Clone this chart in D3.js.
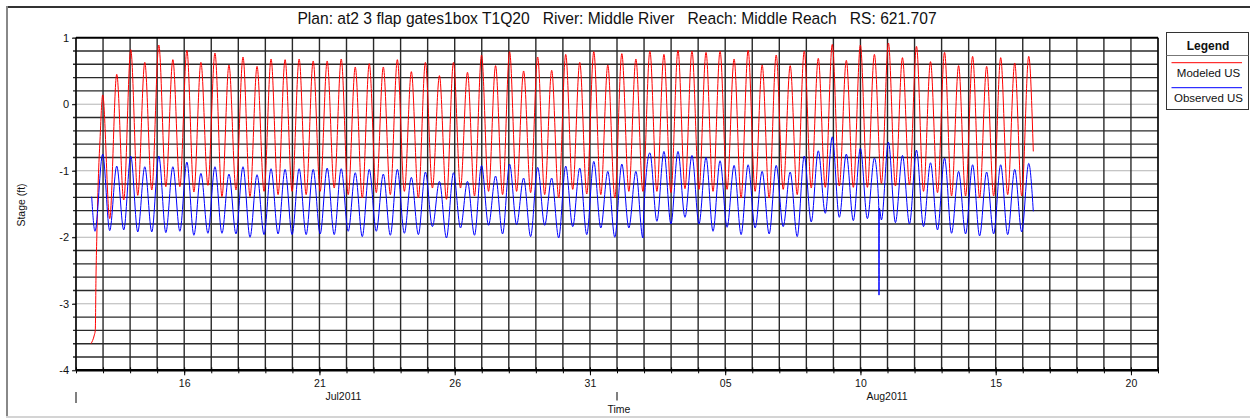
<!DOCTYPE html>
<html><head><meta charset="utf-8">
<script src="https://cdn.jsdelivr.net/npm/d3@7"></script>
<style>
html,body{margin:0;padding:0;background:#fff;}
svg{display:block;font-family:"Liberation Sans",Arial,sans-serif;}
</style></head><body>
<svg id="chart" width="1250" height="418"></svg>
<script>
// ---------------- DATA ----------------
const chartTitle = "Plan: at2 3 flap gates1box T1Q20   River: Middle River   Reach: Middle Reach   RS: 621.707";
const seriesNames = ["Modeled US", "Observed US"];
const yAxisTitle = "Stage (ft)";
const xAxisTitle = "Time";
const startDate = new Date(2011, 6, 12);
const endDate = new Date(2011, 7, 21);

// times (days after 12 Jul 2011 00:00) of each high and low water
const peakDay = [0.987,1.506,2.024,2.543,3.062,3.581,4.099,4.618,5.137,5.655,6.174,6.693,7.211,7.730,8.249,8.768,9.286,9.805,10.324,10.842,11.361,11.880,12.398,12.917,13.436,13.955,14.473,14.992,15.511,16.029,16.548,17.067,17.585,18.104,18.623,19.142,19.660,20.179,20.698,21.216,21.735,22.254,22.772,23.291,23.810,24.329,24.847,25.366,25.885,26.403,26.922,27.441,27.959,28.478,28.997,29.516,30.034,30.553,31.072,31.590,32.109,32.628,33.146,33.665,34.184,34.703,35.221];
const troughDay = [1.246,1.765,2.283,2.802,3.321,3.840,4.358,4.877,5.396,5.914,6.433,6.952,7.470,7.989,8.508,9.027,9.545,10.064,10.583,11.101,11.620,12.139,12.657,13.176,13.695,14.214,14.732,15.251,15.770,16.288,16.807,17.326,17.844,18.363,18.882,19.401,19.919,20.438,20.957,21.475,21.994,22.513,23.031,23.550,24.069,24.588,25.106,25.625,26.144,26.662,27.181,27.700,28.218,28.737,29.256,29.775,30.293,30.812,31.331,31.849,32.368,32.887,33.405,33.924,34.443,34.962];

// Modeled US stage (ft)
const modeledPeaks = [0.14,0.45,0.82,0.63,0.89,0.67,0.81,0.63,0.77,0.59,
  0.71,0.57,0.68,0.67,0.68,0.65,0.65,0.68,0.56,0.61,
  0.56,0.67,0.49,0.63,0.43,0.63,0.48,0.74,0.58,0.79,
  0.50,0.71,0.51,0.75,0.63,0.79,0.59,0.76,0.68,0.80,
  0.75,0.81,0.80,0.78,0.80,0.68,0.81,0.59,0.74,0.58,
  0.80,0.69,0.90,0.66,0.89,0.75,0.92,0.70,0.87,0.64,
  0.78,0.58,0.72,0.57,0.70,0.62,0.72];
const modeledTroughs = [-1.72,-1.44,-1.37,-1.29,-1.24,-1.24,-1.32,-1.22,-1.39,-1.29,
  -1.39,-1.31,-1.36,-1.31,-1.36,-1.31,-1.26,-1.36,-1.41,-1.33,
  -1.36,-1.31,-1.41,-1.26,-1.43,-1.26,-1.38,-1.31,-1.36,-1.31,
  -1.33,-1.36,-1.41,-1.28,-1.35,-1.36,-1.41,-1.31,-1.31,-1.31,
  -1.33,-1.27,-1.28,-1.31,-1.28,-1.41,-1.31,-1.41,-1.28,-1.36,
  -1.26,-1.25,-1.23,-1.25,-1.25,-1.19,-1.23,-1.21,-1.31,-1.33,
  -1.38,-1.38,-1.41,-1.38,-1.36,-1.38];
const modeledOtherDay = [0.555,0.677,0.713,0.739,0.769,0.824,0.887,35.39];
const modeledOther = [-3.60,-3.47,-3.40,-2.60,-2.00,-1.14,-0.54,-0.71];

// Observed US stage (ft)
const observedPeaks = [-0.75,-0.93,-0.78,-0.94,-0.78,-0.94,-0.87,-1.04,-0.94,-1.05,
  -0.94,-1.06,-0.97,-0.98,-0.97,-0.98,-0.96,-0.97,-1.03,-0.98,
  -1.05,-0.98,-1.10,-1.02,-1.16,-1.03,-1.16,-0.92,-1.08,-0.90,
  -1.11,-0.95,-1.11,-0.93,-0.96,-0.86,-1.01,-0.90,-1.01,-0.73,
  -0.71,-0.71,-0.77,-0.80,-0.85,-0.92,-0.91,-1.01,-0.92,-1.02,
  -0.78,-0.70,-0.49,-0.75,-0.66,-0.81,-0.57,-0.77,-0.69,-0.88,
  -0.81,-1.01,-0.91,-1.02,-0.91,-0.98,-0.89];
const observedTroughs = [-1.90,-1.89,-1.92,-1.92,-1.93,-1.91,-1.97,-1.94,-1.94,-1.95,
  -2.00,-1.96,-1.95,-1.96,-1.96,-1.95,-1.96,-1.91,-1.99,-1.91,
  -1.97,-1.94,-1.96,-1.84,-2.01,-1.86,-1.97,-1.82,-1.95,-1.81,
  -1.99,-1.82,-2.01,-1.84,-1.96,-1.86,-2.00,-1.86,-2.01,-1.76,
  -1.80,-1.70,-1.80,-1.91,-1.85,-1.96,-1.86,-1.95,-1.84,-1.99,
  -1.77,-1.64,-1.70,-1.75,-1.72,-1.74,-1.78,-1.80,-1.84,-1.89,
  -1.94,-1.95,-1.98,-1.95,-1.96,-1.92];
const observedOtherDay = [0.580,0.702,20.985,29.675,29.686,29.697,35.39];
const observedOther = [-1.39,-1.91,-1.66,-1.50,-2.87,-1.56,-1.61];

const yTickValues = [1, 0, -1, -2, -3, -4];
const yTickLabels = ["1", "0", "-1", "-2", "-3", "-4"];
const xTickDates = ["2011-07-16","2011-07-21","2011-07-26","2011-07-31","2011-08-05","2011-08-10","2011-08-15","2011-08-20"];
const xTickLabels = ["16","21","26","31","05","10","15","20"];
const monthDates = ["2011-07-21","2011-08-10"];
const monthLabels = ["Jul2011","Aug2011"];
const monthMarkDates = ["2011-07-12","2011-08-01"];
const seriesColors = ["#ff0000", "#0000ff"];

// ---------------- CHART ----------------
const svg = d3.select("#chart");
const X0 = 76, X1 = 1158, Y0 = 370.3, Y1 = 37.7;
const parse = d3.timeParse("%Y-%m-%d");
const x = d3.scaleTime().domain([startDate, endDate]).range([X0, X1]);
const y = d3.scaleLinear().domain([-4, 1]).range([Y0, Y1]);
const dayToDate = d => new Date(startDate.getTime() + d * 86400000);

function buildSeries(pd, pv, td, tv, od, ov) {
  const pts = [];
  pd.forEach((d, i) => pts.push({ t: dayToDate(d), v: pv[i] }));
  td.forEach((d, i) => pts.push({ t: dayToDate(d), v: tv[i] }));
  od.forEach((d, i) => pts.push({ t: dayToDate(d), v: ov[i] }));
  return pts.sort((a, b) => a.t - b.t);
}
const modeled = buildSeries(peakDay, modeledPeaks, troughDay, modeledTroughs, modeledOtherDay, modeledOther);
const observed = buildSeries(peakDay, observedPeaks, troughDay, observedTroughs, observedOtherDay, observedOther);

// outer panel border
svg.append("line").attr("x1", 6).attr("x2", 1250).attr("y1", 7).attr("y2", 7).attr("stroke", "#333").attr("stroke-width", 2);
svg.append("line").attr("x1", 7).attr("x2", 7).attr("y1", 6).attr("y2", 418).attr("stroke", "#888").attr("stroke-width", 2);
svg.append("line").attr("x1", 6).attr("x2", 1250).attr("y1", 417).attr("y2", 417).attr("stroke", "#d4d4d4").attr("stroke-width", 2);

// horizontal grid
const hTicks = y.ticks(25);
const grid = svg.append("g");
grid.selectAll("line.h").data(hTicks).join("line")
  .attr("x1", X0 - 3).attr("x2", X1)
  .attr("y1", d => y(d)).attr("y2", d => y(d))
  .attr("stroke", d => Math.abs(d - Math.round(d)) < 1e-6 ? "#b4b4b4" : "#2a2a2a")
  .attr("stroke-width", d => Math.abs(d - Math.round(d)) < 1e-6 ? 1 : 1.4);
// vertical grid (daily)
const days = d3.timeDay.range(startDate, d3.timeDay.offset(endDate, 1));
grid.selectAll("line.v").data(days).join("line")
  .attr("x1", d => x(d)).attr("x2", d => x(d))
  .attr("y1", Y1).attr("y2", Y0)
  .attr("stroke", "#2a2a2a").attr("stroke-width", 1.4);

// lines
const line = d3.line().x(d => x(d.t)).y(d => y(d.v)).curve(d3.curveMonotoneX);
const plot = svg.append("g");
plot.append("path").datum(modeled).attr("d", line).attr("fill", "none").attr("stroke", seriesColors[0]).attr("stroke-width", 1);
plot.append("path").datum(observed).attr("d", line).attr("fill", "none").attr("stroke", seriesColors[1]).attr("stroke-width", 1);

// frame
svg.append("line").attr("x1", X0).attr("x2", X1).attr("y1", Y1).attr("y2", Y1).attr("stroke", "#000").attr("stroke-width", 2);
svg.append("line").attr("x1", X0).attr("x2", X1).attr("y1", Y0).attr("y2", Y0).attr("stroke", "#000").attr("stroke-width", 2.5);
svg.append("line").attr("x1", X0).attr("x2", X0).attr("y1", Y1).attr("y2", Y0).attr("stroke", "#000").attr("stroke-width", 1.2);
svg.append("line").attr("x1", X1).attr("x2", X1).attr("y1", Y1).attr("y2", Y0).attr("stroke", "#000").attr("stroke-width", 1.2);

// y axis
const yAxis = svg.append("g").attr("transform", `translate(${X0},0)`)
  .call(d3.axisLeft(y).tickValues(yTickValues).tickSize(4).tickPadding(3)
    .tickFormat((d, i) => yTickLabels[i]));
yAxis.select(".domain").remove();
yAxis.selectAll(".tick line").attr("stroke", "#000");
yAxis.selectAll(".tick text").attr("font-size", 11).attr("fill", "#111")
  .attr("font-family", "Liberation Sans, Arial, sans-serif");

// x axis: daily small ticks
const xAxisSmall = svg.append("g").attr("transform", `translate(0,${Y0 - 3})`)
  .call(d3.axisBottom(x).tickValues(days).tickSize(6).tickFormat(""));
xAxisSmall.select(".domain").remove();
xAxisSmall.selectAll(".tick line").attr("stroke", "#000");
// labeled ticks
const xAxis = svg.append("g").attr("transform", `translate(0,${Y0})`)
  .call(d3.axisBottom(x).tickValues(xTickDates.map(parse)).tickSize(5).tickPadding(4)
    .tickFormat((d, i) => xTickLabels[i]));
xAxis.select(".domain").remove();
xAxis.selectAll(".tick line").attr("stroke", "#000");
xAxis.selectAll(".tick text").attr("font-size", 10.5).attr("fill", "#111")
  .attr("font-family", "Liberation Sans, Arial, sans-serif");

// month labels
svg.selectAll("text.month").data(monthDates).join("text")
  .attr("x", d => x(parse(d)) + 6).attr("y", 399.5)
  .attr("font-size", 10.5).attr("fill", "#111")
  .text((d, i) => monthLabels[i]);
svg.selectAll("line.mmark").data(monthMarkDates).join("line")
  .attr("x1", d => x(parse(d))).attr("x2", d => x(parse(d)))
  .attr("y1", 392).attr("y2", (d, i) => i === 0 ? 403 : 400.5)
  .attr("stroke", "#000").attr("stroke-width", 1);

// axis titles
svg.append("text").attr("x", (X0 + X1) / 2 + 2).attr("y", 412.5).attr("text-anchor", "middle")
  .attr("font-size", 10.5).attr("fill", "#111").text(xAxisTitle);
svg.append("text").attr("transform", `translate(25,205) rotate(-90)`).attr("text-anchor", "middle")
  .attr("font-size", 10.5).attr("fill", "#111").text(yAxisTitle);

// title
const title = svg.append("text").attr("x", (X0 + X1) / 2).attr("y", 24).attr("text-anchor", "middle")
  .attr("font-size", 14).attr("fill", "#111").style("white-space", "pre").text(chartTitle);
const tw = title.node().getComputedTextLength();
title.attr("font-size", 14 * 640 / tw);

// legend
const lg = svg.append("g");
lg.append("rect").attr("x", 1166.5).attr("y", 32.5).attr("width", 82).attr("height", 77)
  .attr("fill", "#fff").attr("stroke", "#333").attr("stroke-width", 1);
lg.append("text").attr("x", 1208).attr("y", 50).attr("text-anchor", "middle")
  .attr("font-size", 12).attr("font-weight", "bold").attr("fill", "#111").text("Legend");
lg.append("line").attr("x1", 1166.5).attr("x2", 1248.5).attr("y1", 55.5).attr("y2", 55.5).attr("stroke", "#777");
seriesNames.forEach((name, i) => {
  const ly = 62.7 + i * 25;
  lg.append("line").attr("x1", 1171.5).attr("x2", 1242).attr("y1", ly).attr("y2", ly)
    .attr("stroke", seriesColors[i]).attr("stroke-width", 1);
  lg.append("text").attr("x", 1208.5).attr("y", ly + 14.6).attr("text-anchor", "middle")
    .attr("font-size", 11.5).attr("fill", "#111").text(name);
});
</script>
</body></html>
